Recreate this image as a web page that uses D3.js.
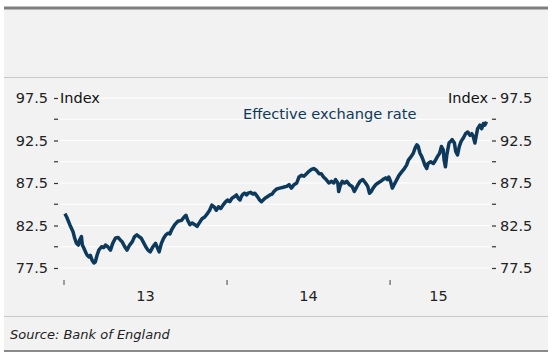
<!DOCTYPE html>
<html>
<head>
<meta charset="utf-8">
<script src="https://cdn.jsdelivr.net/npm/d3@7"></script>
<style>
  body { margin: 0; background: #fff; }
  svg { display: block; font-family: "DejaVu Sans", sans-serif; }
</style>
</head>
<body>
<div class="chart"></div>
<script>
// sterling effective exchange rate
var dates = [
  "2013-01-03","2013-01-07","2013-01-14","2013-01-21","2013-01-25","2013-01-29","2013-02-02","2013-02-05",
  "2013-02-09","2013-02-11","2013-02-14","2013-02-19","2013-02-22","2013-02-26","2013-03-01","2013-03-05",
  "2013-03-09","2013-03-12","2013-03-16","2013-03-20","2013-03-26","2013-03-31","2013-04-04","2013-04-09",
  "2013-04-15","2013-04-20","2013-04-26","2013-05-02","2013-05-07","2013-05-11","2013-05-17","2013-05-22",
  "2013-05-28","2013-06-03","2013-06-08","2013-06-13","2013-06-18","2013-06-23","2013-06-27","2013-07-03",
  "2013-07-08","2013-07-13","2013-07-18","2013-07-22","2013-07-25","2013-07-29","2013-08-02","2013-08-07",
  "2013-08-12","2013-08-17","2013-08-22","2013-08-26","2013-08-30","2013-09-06","2013-09-13","2013-09-21",
  "2013-09-27","2013-10-01","2013-10-05","2013-10-10","2013-10-15","2013-10-21","2013-10-26","2013-11-01",
  "2013-11-06","2013-11-12","2013-11-18","2013-11-23","2013-11-28","2013-12-03","2013-12-08","2013-12-13",
  "2013-12-18","2013-12-23","2013-12-29","2014-01-02","2014-01-07","2014-01-12","2014-01-18","2014-01-22",
  "2014-01-26","2014-01-30","2014-02-02","2014-02-06","2014-02-10","2014-02-14","2014-02-17","2014-02-23",
  "2014-02-28","2014-03-04","2014-03-10","2014-03-15","2014-03-19","2014-03-23","2014-03-27","2014-04-02",
  "2014-04-07","2014-04-12","2014-04-16","2014-04-22","2014-04-29","2014-05-07","2014-05-14","2014-05-20",
  "2014-05-25","2014-05-31","2014-06-06","2014-06-11","2014-06-17","2014-06-22","2014-06-28","2014-07-04",
  "2014-07-09","2014-07-14","2014-07-20","2014-07-26","2014-07-31","2014-08-05","2014-08-11","2014-08-17",
  "2014-08-23","2014-08-28","2014-09-01","2014-09-06","2014-09-08","2014-09-11","2014-09-16","2014-09-21",
  "2014-09-26","2014-10-02","2014-10-08","2014-10-13","2014-10-17","2014-10-21","2014-10-26","2014-11-01",
  "2014-11-07","2014-11-12","2014-11-16","2014-11-20","2014-11-24","2014-11-30","2014-12-05","2014-12-11",
  "2014-12-16","2014-12-22","2014-12-26","2014-12-29","2015-01-02","2015-01-06","2015-01-10","2015-01-16",
  "2015-01-21","2015-01-27","2015-02-02","2015-02-07","2015-02-11","2015-02-17","2015-02-22","2015-02-26",
  "2015-03-02","2015-03-05","2015-03-09","2015-03-13","2015-03-16","2015-03-20","2015-03-24","2015-03-27",
  "2015-04-02","2015-04-08","2015-04-13","2015-04-17","2015-04-22","2015-04-26","2015-04-30","2015-05-02",
  "2015-05-05","2015-05-08","2015-05-13","2015-05-17","2015-05-20","2015-05-25","2015-05-28","2015-06-01",
  "2015-06-05","2015-06-09","2015-06-14","2015-06-19","2015-06-24","2015-06-29","2015-07-03","2015-07-06",
  "2015-07-10","2015-07-13","2015-07-16","2015-07-21","2015-07-25","2015-07-29","2015-08-01","2015-08-05"
];
var values = [
  83.9, 83.5, 82.6, 81.8, 81.0, 80.4, 80.2, 80.8,
  81.2, 80.2, 79.9, 79.3, 79.0, 78.8, 79.0, 78.4,
  78.1, 78.2, 79.0, 79.6, 80.0, 79.9, 80.2, 80.0,
  79.6, 80.4, 81.0, 81.1, 80.8, 80.6, 80.0, 79.6,
  80.2, 80.6, 81.2, 81.4, 81.2, 81.0, 80.6, 80.0,
  79.6, 79.4, 79.9, 80.2, 80.4, 79.9, 79.4, 80.4,
  81.0, 81.4, 81.6, 81.5, 82.0, 82.6, 83.0, 83.1,
  83.5, 83.7, 83.1, 82.6, 82.8, 82.6, 82.4, 82.9,
  83.3, 83.5, 83.9, 84.3, 84.9, 84.7, 84.3, 84.7,
  84.5, 84.9, 85.3, 85.5, 85.3, 85.7, 85.9, 86.1,
  85.7, 85.5, 85.9, 86.2, 86.3, 86.1, 86.3, 86.4,
  86.2, 86.3, 85.9, 85.5, 85.3, 85.5, 85.7, 85.9,
  86.1, 86.2, 86.5, 86.8, 86.9, 87.0, 87.1, 87.3,
  86.9, 87.3, 87.5, 88.2, 88.4, 88.3, 88.6, 88.9,
  89.1, 89.2, 89.0, 88.6, 88.6, 88.2, 87.9, 87.5,
  87.7, 87.5, 87.9, 87.5, 86.5, 87.1, 87.7, 87.5,
  87.7, 87.3, 87.1, 86.5, 86.9, 87.3, 87.7, 87.9,
  87.5, 87.1, 86.3, 86.5, 86.9, 87.3, 87.5, 87.7,
  87.9, 88.1, 87.9, 88.2, 87.7, 86.9, 87.3, 87.9,
  88.4, 88.8, 89.2, 89.6, 90.2, 90.6, 91.0, 91.6,
  92.0, 91.8, 91.0, 90.6, 90.2, 89.6, 89.2, 89.8,
  90.0, 89.8, 90.2, 90.6, 91.0, 91.8, 91.4, 90.2,
  89.4, 90.8, 92.2, 92.4, 92.6, 92.2, 91.2, 90.8,
  91.8, 92.4, 92.8, 93.3, 93.5, 93.1, 93.3, 93.0,
  92.2, 93.1, 93.9, 94.3, 93.9, 94.5, 94.3, 94.7
];
var yearStarts = ["2013-01-01", "2014-01-01", "2015-01-01"];
var yearLabels = ["13", "14", "15"];
var yMajor = [77.5, 82.5, 87.5, 92.5, 97.5];
var yMinor = [80, 85, 90, 95];
var yGrid = [77.5, 80, 82.5, 85, 87.5, 90, 92.5, 95, 97.5];
var seriesName = "Effective exchange rate";
var unitLabel = "Index";
var sourceText = "Source: Bank of England";

var W = 552, H = 358;
var parse = d3.timeParse("%Y-%m-%d");
var data = dates.map(function (d, i) { return {date: parse(d), value: values[i]}; });
var domainEnd = parse("2015-08-06");

var svg = d3.select(".chart").append("svg")
    .attr("width", W)
    .attr("height", H);

// panel
svg.append("rect").attr("x", 4).attr("y", 7).attr("width", 544).attr("height", 344).attr("fill", "#f2f2f2");
svg.append("line").attr("x1", 4).attr("x2", 548).attr("y1", 8).attr("y2", 8)
    .attr("stroke", "#7f7f7f").attr("stroke-width", 3);
svg.append("line").attr("x1", 4).attr("x2", 548).attr("y1", 77.5).attr("y2", 77.5)
    .attr("stroke", "#c9c9c9").attr("stroke-width", 1);
svg.append("line").attr("x1", 4).attr("x2", 548).attr("y1", 316.5).attr("y2", 316.5)
    .attr("stroke", "#c9c9c9").attr("stroke-width", 1);
svg.append("line").attr("x1", 4).attr("x2", 548).attr("y1", 351).attr("y2", 351)
    .attr("stroke", "#8a8a8a").attr("stroke-width", 2);

var x = d3.scaleTime()
    .domain([parse(yearStarts[0]), domainEnd])
    .range([64, 487]);

var y = d3.scaleLinear()
    .domain([77.5, 97.5])
    .range([268, 98]);

// gridlines
svg.append("g").selectAll("line")
    .data(yGrid)
    .enter().append("line")
    .attr("x1", 60).attr("x2", 490)
    .attr("y1", function (d) { return y(d); })
    .attr("y2", function (d) { return y(d); })
    .attr("stroke", "#ffffff").attr("stroke-width", 1.2);

// left axis
var left = svg.append("g")
    .attr("transform", "translate(58,0)")
    .call(d3.axisLeft(y).tickValues(yMajor).tickSize(4).tickPadding(6).tickFormat(d3.format(".1f")));
left.append("g").selectAll("line")
    .data(yMinor).enter().append("line")
    .attr("x1", -4).attr("x2", 0)
    .attr("y1", function (d) { return y(d); }).attr("y2", function (d) { return y(d); });

// right axis
var right = svg.append("g")
    .attr("transform", "translate(492,0)")
    .call(d3.axisRight(y).tickValues(yMajor).tickSize(4).tickPadding(4).tickFormat(d3.format(".1f")));
right.append("g").selectAll("line")
    .data(yMinor).enter().append("line")
    .attr("x1", 0).attr("x2", 4)
    .attr("y1", function (d) { return y(d); }).attr("y2", function (d) { return y(d); });

svg.selectAll(".domain").remove();
svg.selectAll(".tick line, g > g > line").attr("stroke", "#333").attr("stroke-width", 1.2);
svg.selectAll(".tick text").attr("fill", "#222").style("font-size", "14.5px")
    .style("font-family", "'DejaVu Sans', sans-serif");

// unit labels
svg.append("text").attr("x", 60).attr("y", y(97.5)).attr("dy", "0.36em")
    .attr("fill", "#111").style("font-size", "14.5px").text(unitLabel);
svg.append("text").attr("x", 488).attr("y", y(97.5)).attr("dy", "0.36em")
    .attr("text-anchor", "end")
    .attr("fill", "#111").style("font-size", "14.5px").text(unitLabel);

// x axis: year boundary ticks and centred year labels
var yearDates = yearStarts.map(parse);
svg.append("g").selectAll("line")
    .data(yearDates).enter().append("line")
    .attr("x1", function (d) { return x(d); }).attr("x2", function (d) { return x(d); })
    .attr("y1", 280).attr("y2", 285)
    .attr("stroke", "#444").attr("stroke-width", 1);

svg.append("g").selectAll("text")
    .data(yearDates).enter().append("text")
    .attr("x", function (d, i) {
        var end = i < yearDates.length - 1 ? yearDates[i + 1] : domainEnd;
        return (x(d) + x(end)) / 2;
    })
    .attr("y", 301)
    .attr("text-anchor", "middle")
    .attr("fill", "#222").style("font-size", "14.5px")
    .text(function (d, i) { return yearLabels[i]; });

// the series
var line = d3.line()
    .x(function (d) { return x(d.date); })
    .y(function (d) { return y(d.value); });

svg.append("path")
    .datum(data)
    .attr("fill", "none")
    .attr("stroke", "#0d3a5c")
    .attr("stroke-width", 3.5)
    .attr("stroke-linejoin", "round")
    .attr("d", line);

svg.append("text").attr("x", 243).attr("y", 119)
    .attr("fill", "#0d3a5c").style("font-size", "14.6px").text(seriesName);

svg.append("text").attr("x", 10).attr("y", 339)
    .attr("fill", "#222").style("font-size", "13px").style("font-style", "italic")
    .text(sourceText);
</script>
</body>
</html>
